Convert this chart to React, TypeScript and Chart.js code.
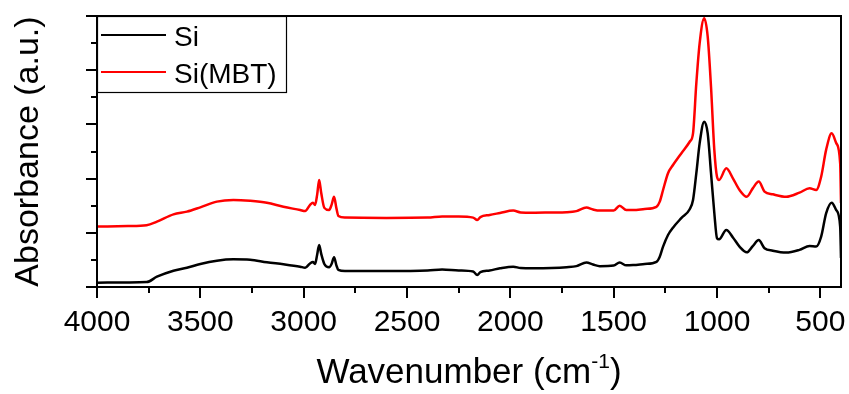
import React, { useEffect, useRef } from 'react';
import { Chart, registerables } from 'chart.js';

Chart.register(...registerables);

// ---- data ----
const wavenumbers = [
  4000, 3850, 3760, 3710, 3630, 3565, 3500, 3420, 3340, 3259, 3178, 3098, 3017, 2993, 2969, 2955,
  2945, 2935, 2925, 2915, 2900, 2877, 2865, 2853, 2842, 2832, 2800, 2600, 2400, 2330, 2250, 2180,
  2160, 2145, 2100, 2050, 1986, 1950, 1891, 1800, 1728, 1680, 1632, 1600, 1567, 1500, 1471, 1439,
  1406, 1350, 1293, 1277, 1261, 1237, 1213, 1173, 1132, 1116, 1100, 1084, 1062, 1045, 1029, 1013,
  1000, 990, 955, 923, 891, 856, 827, 798, 770, 730, 665, 601, 552, 520, 496, 472,
  445, 423, 404, 400,
];

const siValues = [
  0.16, 0.17, 0.18, 0.38, 0.6, 0.71, 0.85, 0.97, 1.02, 1.01, 0.91, 0.84, 0.75, 0.71, 0.87, 0.92,
  0.85, 1.18, 1.55, 1.22, 0.85, 0.73, 0.85, 1.1, 0.81, 0.63, 0.59, 0.59, 0.61, 0.65, 0.61, 0.57,
  0.44, 0.55, 0.61, 0.69, 0.75, 0.7, 0.69, 0.7, 0.73, 0.77, 0.9, 0.83, 0.77, 0.79, 0.9, 0.8,
  0.81, 0.85, 0.93, 1.12, 1.49, 1.92, 2.19, 2.54, 2.87, 3.21, 4.2, 5.3, 6.1, 5.67, 4.21, 2.73,
  1.8, 1.76, 2.1, 1.83, 1.49, 1.28, 1.51, 1.73, 1.43, 1.34, 1.27, 1.37, 1.51, 1.49, 1.86, 2.72,
  3.11, 2.84, 2.23, 1.07,
];

const siMbtValues = [
  2.23, 2.25, 2.28, 2.41, 2.68, 2.78, 2.94, 3.15, 3.21, 3.18, 3.11, 2.96, 2.84, 2.8, 3.03, 3.11,
  3.03, 3.39, 3.95, 3.47, 2.92, 2.84, 3.03, 3.33, 2.92, 2.62, 2.56, 2.55, 2.56, 2.6, 2.6, 2.56,
  2.47, 2.58, 2.66, 2.73, 2.82, 2.75, 2.74, 2.75, 2.76, 2.8, 2.93, 2.86, 2.82, 2.82, 3.0, 2.84,
  2.84, 2.88, 2.96, 3.15, 3.58, 4.2, 4.5, 4.93, 5.36, 5.67, 7.52, 8.99, 9.92, 9.24, 7.39, 5.06,
  4.07, 3.95, 4.38, 4.01, 3.58, 3.33, 3.64, 3.89, 3.52, 3.42, 3.33, 3.48, 3.64, 3.58, 4.07, 5.06,
  5.67, 5.31, 4.56, 3.1,
];

const seriesLabels = ['Si', 'Si(MBT)'];
const seriesColors = ['#000000', '#ff0000'];
const xMajorTicks = [4000, 3500, 3000, 2500, 2000, 1500, 1000, 500];
const xMinorTicks = [3750, 3250, 2750, 2250, 1750, 1250, 750];
const yMajorTicks = [0, 2, 4, 6, 8, 10];
const yMinorTicks = [1, 3, 5, 7, 9];
const xTitleMain = 'Wavenumber (cm';
const xTitleSup = '-1';
const xTitleEnd = ')';
const yTitle = 'Absorbance (a.u.)';

const FONT = '"Liberation Sans", Arial, sans-serif';

const decorPlugin = {
  id: 'decor',
  afterDraw(chart: any) {
    const { ctx, chartArea: a, scales } = chart;
    ctx.save();
    // frame
    ctx.strokeStyle = '#000';
    ctx.lineWidth = 2;
    ctx.strokeRect(a.left, a.top, a.right - a.left, a.bottom - a.top);
    // ticks
    ctx.beginPath();
    for (const v of xMajorTicks) {
      const p = Math.round(scales.x.getPixelForValue(v));
      ctx.moveTo(p, a.bottom);
      ctx.lineTo(p, a.bottom + 11);
    }
    for (const v of xMinorTicks) {
      const p = Math.round(scales.x.getPixelForValue(v));
      ctx.moveTo(p, a.bottom);
      ctx.lineTo(p, a.bottom + 6);
    }
    for (const v of yMajorTicks) {
      const p = Math.round(scales.y.getPixelForValue(v));
      ctx.moveTo(a.left, p);
      ctx.lineTo(a.left - 11, p);
    }
    for (const v of yMinorTicks) {
      const p = Math.round(scales.y.getPixelForValue(v));
      ctx.moveTo(a.left, p);
      ctx.lineTo(a.left - 6, p);
    }
    ctx.stroke();

    // legend
    const lx = a.left, ly = a.top, lw = 189, lh = 76;
    ctx.fillStyle = '#fff';
    ctx.fillRect(lx + 1, ly + 1, lw - 1, lh - 1);
    ctx.lineWidth = 1.2;
    ctx.strokeRect(lx + 0.5, ly + 0.5, lw, lh);
    const rows = [35, 72];
    ctx.font = `28px ${FONT}`;
    ctx.textBaseline = 'alphabetic';
    ctx.textAlign = 'left';
    seriesLabels.forEach((lab, i) => {
      ctx.strokeStyle = seriesColors[i];
      ctx.lineWidth = 2;
      ctx.beginPath();
      ctx.moveTo(lx + 4, rows[i]);
      ctx.lineTo(lx + 69, rows[i]);
      ctx.stroke();
      ctx.fillStyle = '#000';
      ctx.fillText(lab, lx + 77, rows[i] + 10.5);
    });

    // x title with superscript
    const mainFont = `35px ${FONT}`;
    const supFont = `21px ${FONT}`;
    ctx.font = mainFont;
    const w1 = ctx.measureText(xTitleMain).width;
    const w3 = ctx.measureText(xTitleEnd).width;
    ctx.font = supFont;
    const w2 = ctx.measureText(xTitleSup).width;
    const total = w1 + w2 + w3;
    let x = (a.left + a.right) / 2 - total / 2;
    const base = 383;
    ctx.fillStyle = '#000';
    ctx.font = mainFont;
    ctx.fillText(xTitleMain, x, base);
    x += w1;
    ctx.font = supFont;
    ctx.fillText(xTitleSup, x, base - 15);
    x += w2;
    ctx.font = mainFont;
    ctx.fillText(xTitleEnd, x, base);
    ctx.restore();
  },
};

export default function App() {
  const ref = useRef<HTMLCanvasElement | null>(null);
  useEffect(() => {
    document.body.style.margin = '0';
    const canvas = ref.current!;
    const chart = new Chart(canvas, {
      type: 'line',
      data: {
        datasets: [
          {
            label: seriesLabels[0],
            data: wavenumbers.map((w, i) => ({ x: w, y: siValues[i] })),
            borderColor: seriesColors[0],
            borderWidth: 2.5,
            pointRadius: 0,
            fill: false,
            cubicInterpolationMode: 'monotone',
          },
          {
            label: seriesLabels[1],
            data: wavenumbers.map((w, i) => ({ x: w, y: siMbtValues[i] })),
            borderColor: seriesColors[1],
            borderWidth: 2.5,
            pointRadius: 0,
            fill: false,
            cubicInterpolationMode: 'monotone',
          },
        ],
      },
      options: {
        animation: false,
        responsive: false,
        devicePixelRatio: 1,
        layout: { padding: { top: 16, right: 8, left: 0, bottom: 0 } },
        plugins: { legend: { display: false }, tooltip: { enabled: false } },
        scales: {
          x: {
            type: 'linear',
            reverse: true,
            min: 400,
            max: 4000,
            afterBuildTicks: (s: any) => {
              s.ticks = xMajorTicks.map((v) => ({ value: v }));
            },
            afterFit: (s: any) => {
              s.height = 107;
              s.paddingLeft = 0;
              s.paddingRight = 0;
            },
            grid: { display: false, drawTicks: false },
            border: { display: false },
            ticks: {
              autoSkip: false,
              maxRotation: 0,
              padding: 18,
              color: '#000',
              font: { family: FONT, size: 30 },
              callback: (v: any) => String(v),
            },
          },
          y: {
            type: 'linear',
            min: 0,
            max: 10,
            afterBuildTicks: (s: any) => {
              s.ticks = [...yMajorTicks, ...yMinorTicks].sort((p, q) => p - q).map((v) => ({ value: v }));
            },
            afterFit: (s: any) => {
              s.width = 97;
              s.paddingTop = 0;
              s.paddingBottom = 0;
            },
            grid: { display: false, drawTicks: false },
            border: { display: false },
            ticks: { display: false },
            title: {
              display: true,
              text: yTitle,
              color: '#000',
              font: { family: FONT, size: 34 },
              padding: { top: 8, bottom: 0 },
            },
          },
        },
      },
      plugins: [decorPlugin],
    });
    return () => chart.destroy();
  }, []);
  return (
    <div style={{ width: 849, height: 394 }}>
      <canvas ref={ref} width={849} height={394} style={{ display: 'block' }} />
    </div>
  );
}
